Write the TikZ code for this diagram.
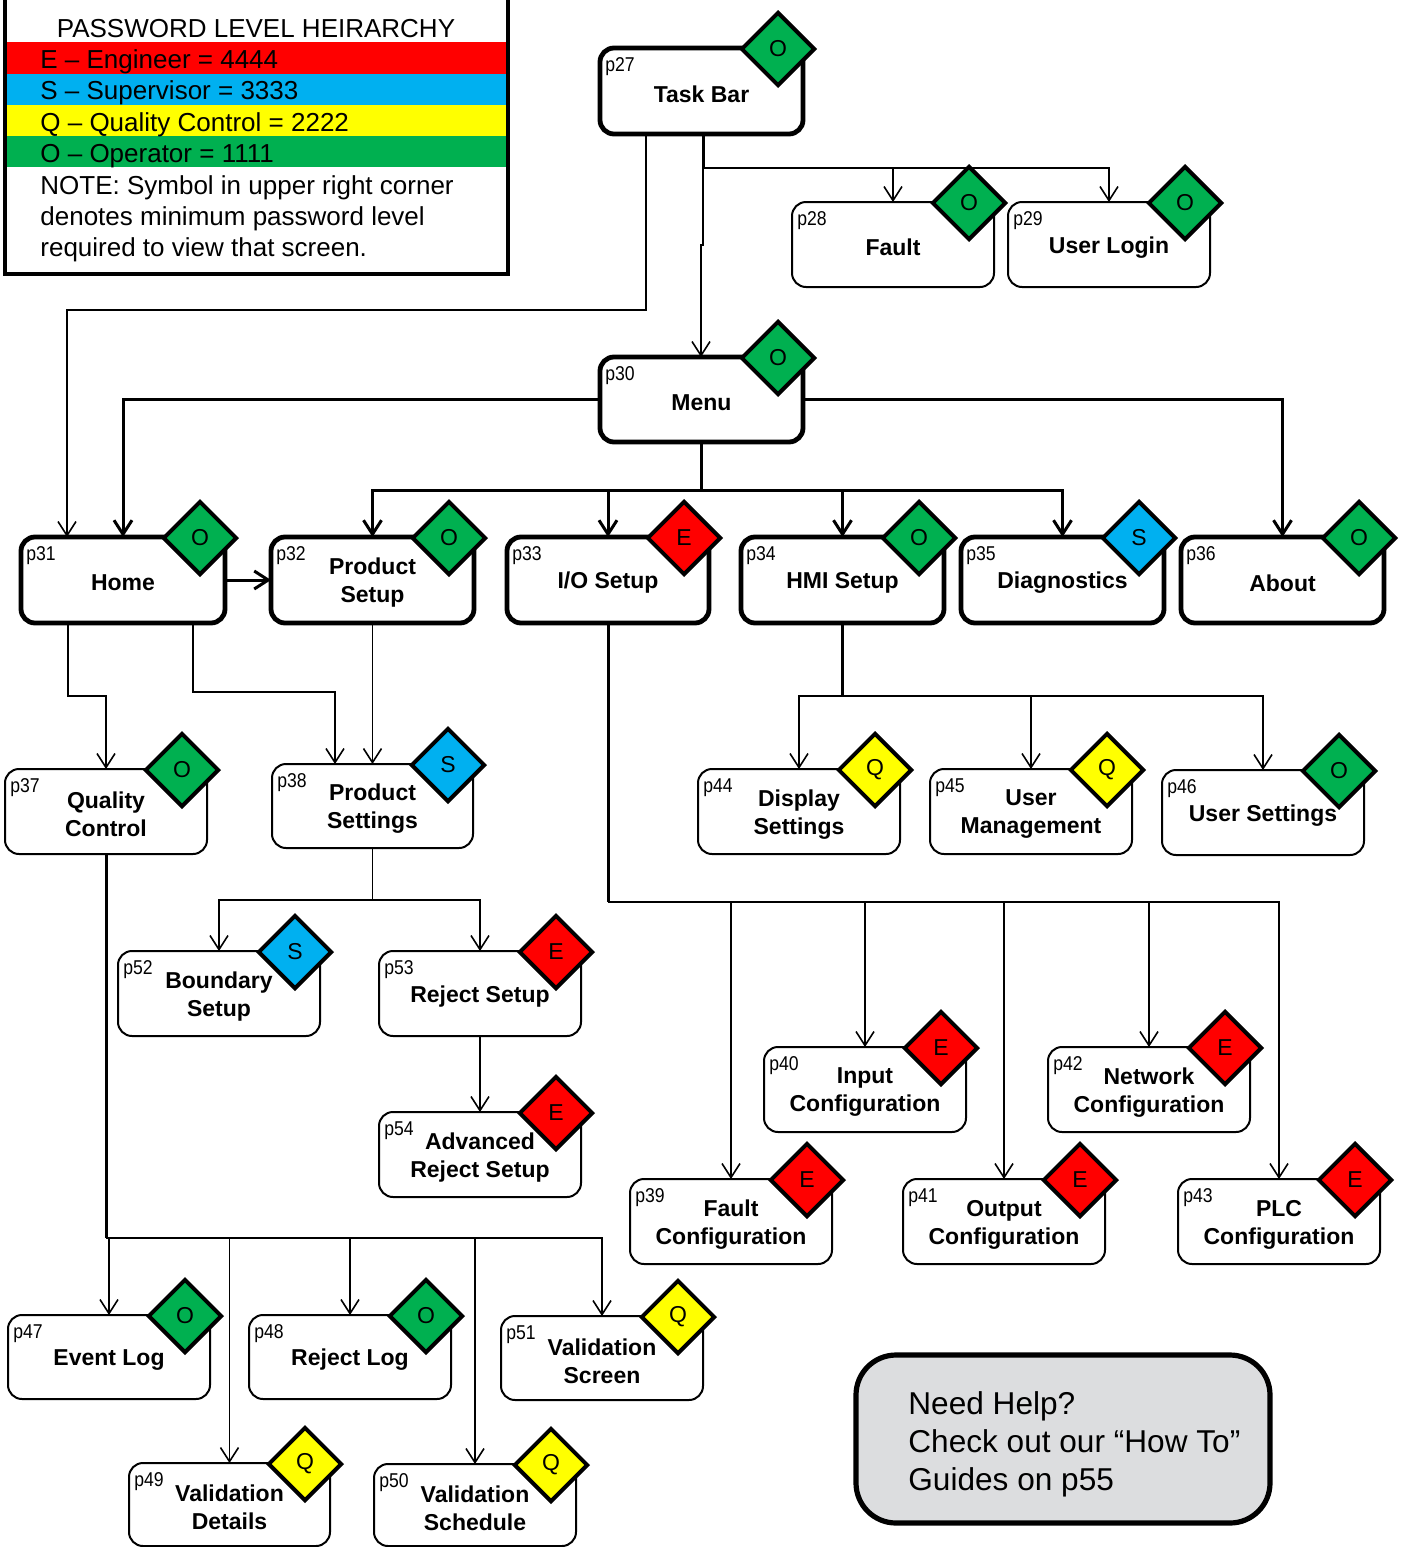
\documentclass[tikz,border=0pt]{standalone}
\usepackage{fontspec}
\setmainfont{Liberation Sans}
\newfontfamily\pagefont[FakeStretch=0.88]{Liberation Sans}
\usetikzlibrary{shapes.geometric,arrows.meta,backgrounds}

\definecolor{lvE}{HTML}{FF0000}
\definecolor{lvS}{HTML}{00B0F0}
\definecolor{lvQ}{HTML}{FFFF00}
\definecolor{lvO}{HTML}{00B050}
\definecolor{helpgray}{HTML}{DCDDDF}

\tikzset{
  trunk/.style={line width=1.5pt},
  branch/.style={line width=0.8pt},
  screen/.style={draw, fill=white, rounded corners=7pt, inner sep=0pt, outer sep=0pt},
  heavy/.style={screen, line width=2.4pt},
  light/.style={screen, line width=1pt},
  screentitle/.style={inner sep=0pt, align=center, font=\fontsize{11.5}{14}\selectfont\bfseries},
  pagetag/.style={anchor=north west, inner sep=0pt, font=\pagefont\fontsize{10}{12}\selectfont},
  level/.style={draw, diamond, aspect=1, minimum width=37pt, minimum height=37pt,
    inner sep=0pt, line width=2pt, font=\fontsize{11.5}{13}\selectfont},
  legendtext/.style={anchor=base west, inner sep=0pt, font=\fontsize{13}{15.5}\selectfont},
  >={Straight Barb[length=7pt,width=9pt]},
}

% #1 name, #2 style, #3/#4 centre, #5/#6 size, #7 page, #8 title, #9 password level
\newcommand{\screen}[9]{%
  \node[#2, minimum width=#5*0.5pt, minimum height=#6*0.5pt] (#1) at (#3,#4) {};
  \node[screentitle] (#1-title) at ([yshift=-1.5pt]#1.center) {#8};
  \node[pagetag] (#1-page) at ([shift={(5,9)}]#1.north west) {#7};
  \node[level, fill=lv#9] (#1-level) at ([shift={(-25,1)}]#1.north east) {#9};
}

\begin{document}
\begin{tikzpicture}[x=0.5pt, y=-0.5pt]
\useasboundingbox (0,0) rectangle (1410,1547);

% password legend
\fill[lvE] (5,42) rectangle (508,74);
\fill[lvS] (5,74) rectangle (508,105);
\fill[lvQ] (5,105) rectangle (508,136);
\fill[lvO] (5,136) rectangle (508,167);
\draw[line width=1.6pt] (5,-5) rectangle (508,274);
\node[legendtext, anchor=base] (lg-title) at (256,37) {PASSWORD LEVEL HEIRARCHY};
\node[legendtext] (lg-e) at (40,68) {E – Engineer = 4444};
\node[legendtext] (lg-s) at (40,99) {S – Supervisor = 3333};
\node[legendtext] (lg-q) at (40,131) {Q – Quality Control = 2222};
\node[legendtext] (lg-o) at (40,162) {O – Operator = 1111};
\node[legendtext, anchor=west, align=left] (lg-note) at (40,219)
  {NOTE: Symbol in upper right corner\\denotes minimum password level\\required to view that screen.};

% screens
\screen{tb}{heavy}{701.5}{91}{203}{86}{p27}{Task Bar}{O}
\screen{fault}{light}{893}{244.5}{202}{85}{p28}{Fault}{O}
\screen{login}{light}{1109}{244.5}{202}{85}{p29}{User Login}{O}
\screen{menu}{heavy}{701.5}{399.5}{203}{85}{p30}{Menu}{O}

\screen{home}{heavy}{123}{580}{204}{86}{p31}{Home}{O}
\screen{psetup}{heavy}{372.5}{580}{203}{86}{p32}{Product\\Setup}{O}
\screen{iosetup}{heavy}{608}{580}{202}{86}{p33}{I/O Setup}{E}
\screen{hmi}{heavy}{842.5}{580}{203}{86}{p34}{HMI Setup}{O}
\screen{diag}{heavy}{1062.5}{580}{203}{86}{p35}{Diagnostics}{S}
\screen{about}{heavy}{1282.5}{580}{203}{86}{p36}{About}{O}

\screen{qc}{light}{106}{811.5}{202}{85}{p37}{Quality\\Control}{O}
\screen{psettings}{light}{372.5}{806}{201}{84}{p38}{Product\\Settings}{S}
\screen{disp}{light}{799}{811.5}{202}{85}{p44}{Display\\Settings}{Q}
\screen{userman}{light}{1031}{811.5}{202}{85}{p45}{User\\Management}{Q}
\screen{userset}{light}{1263}{812.5}{202}{85}{p46}{User Settings}{O}

\screen{boundary}{light}{219}{993.5}{202}{85}{p52}{Boundary\\Setup}{S}
\screen{rejset}{light}{480}{993.5}{202}{85}{p53}{Reject Setup}{E}
\screen{advrej}{light}{480}{1154.5}{202}{85}{p54}{Advanced\\Reject Setup}{E}

\screen{input}{light}{865}{1089.5}{202}{85}{p40}{Input\\Configuration}{E}
\screen{network}{light}{1149}{1089.5}{202}{85}{p42}{Network\\Configuration}{E}
\screen{faultcfg}{light}{731}{1221.5}{202}{85}{p39}{Fault\\Configuration}{E}
\screen{output}{light}{1004}{1221.5}{202}{85}{p41}{Output\\Configuration}{E}
\screen{plc}{light}{1279}{1221.5}{202}{85}{p43}{PLC\\Configuration}{E}

\screen{event}{light}{109}{1357}{202}{84}{p47}{Event Log}{O}
\screen{rejlog}{light}{350}{1357}{202}{84}{p48}{Reject Log}{O}
\screen{valscr}{light}{602}{1358}{202}{84}{p51}{Validation\\Screen}{Q}
\screen{valdet}{light}{229.5}{1504.5}{201}{83}{p49}{Validation\\Details}{Q}
\screen{valsch}{light}{475}{1505}{202}{82}{p50}{Validation\\Schedule}{Q}

% help note
\node[draw, fill=helpgray, line width=2.6pt, rounded corners=20pt, inner sep=0pt, outer sep=0pt,
  minimum width=207pt, minimum height=84pt] (help) at (1063,1439) {};
\node[anchor=west, align=left, inner sep=0pt, font=\fontsize{15.8}{19}\selectfont] (help-text)
  at (908,1444) {Need Help?\\Check out our “How To”\\Guides on p55};

% junction points of the connector buses
\coordinate (tbsplit) at (703,168);
\coordinate (menubus) at (701.5,490);
\coordinate (hmibus) at (842.5,696);
\coordinate (iobus) at (608,902);
\coordinate (psbus) at (372.5,900);
\coordinate (qcbus) at (106,1238);

\begin{scope}[on background layer]
  % task bar
  \draw[branch,->] (tb.south -| 646,0) -- (646,310) -| (home.north -| 67,0);
  \draw[trunk] (tb.south -| tbsplit) -- (tbsplit);
  \draw[branch,->] (tbsplit) -| (fault.north);
  \draw[branch,->] (tbsplit) -| (login.north);
  \draw[branch,->] (tbsplit) -- (703,245) -- (701,245) -- (menu.north -| 701,0);
  % menu
  \draw[trunk,->] (menu.west) -| (home.north);
  \draw[trunk,->] (menu.east) -| (about.north);
  \draw[trunk] (menu.south) -- (menubus);
  \draw[trunk,->] (menubus) -| (psetup.north);
  \draw[trunk,->] (menubus) -| (iosetup.north);
  \draw[trunk,->] (menubus) -| (hmi.north);
  \draw[trunk,->] (menubus) -| (diag.north);
  % home and product setup
  \draw[trunk,->] (home.east) -- (psetup.west);
  \draw[branch,->] (home.south -| 68,0) -- (68,696) -| (qc.north);
  \draw[branch,->] (home.south -| 193,0) -- (193,692) -| (psettings.north -| 335,0);
  \draw[branch,->] (psetup.south) -- (psettings.north);
  % product settings
  \draw[branch] (psettings.south) -- (psbus);
  \draw[branch,->] (psbus) -| (boundary.north);
  \draw[branch,->] (psbus) -| (rejset.north);
  \draw[branch,->] (rejset.south) -- (advrej.north);
  % HMI setup
  \draw[trunk] (hmi.south) -- (hmibus);
  \draw[branch,->] (hmibus) -| (disp.north);
  \draw[branch,->] (hmibus) -| (userman.north);
  \draw[branch,->] (hmibus) -| (userset.north);
  % I/O setup
  \draw[trunk] (iosetup.south) -- (iobus);
  \draw[branch,->] (iobus) -| (faultcfg.north);
  \draw[branch,->] (iobus) -| (input.north);
  \draw[branch,->] (iobus) -| (output.north);
  \draw[branch,->] (iobus) -| (network.north);
  \draw[branch,->] (iobus) -| (plc.north);
  % quality control
  \draw[trunk] (qc.south) -- (qcbus);
  \draw[branch,->] (qcbus) -| (event.north);
  \draw[branch,->] (qcbus) -| (valdet.north);
  \draw[branch,->] (qcbus) -| (rejlog.north);
  \draw[branch,->] (qcbus) -| (valsch.north);
  \draw[branch,->] (qcbus) -| (valscr.north);
\end{scope}
\end{tikzpicture}
\end{document}
